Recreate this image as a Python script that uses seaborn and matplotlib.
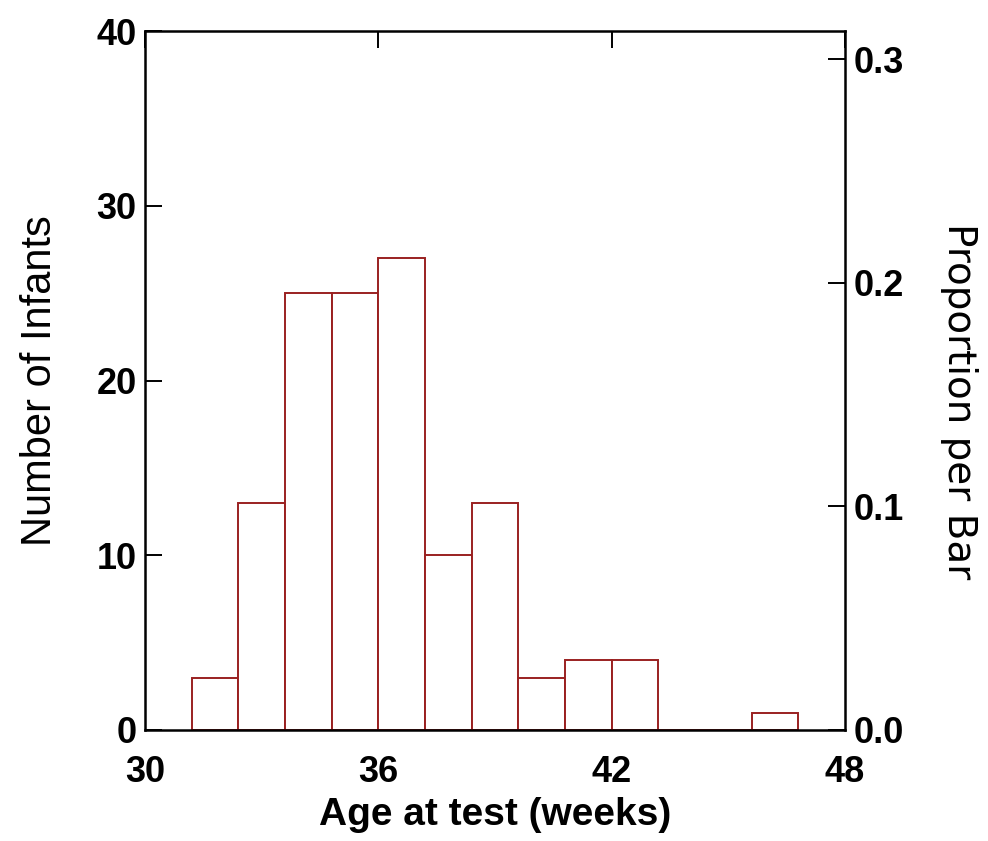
import numpy as np
import pandas as pd
import matplotlib
matplotlib.use("Agg")
import matplotlib.pyplot as plt
import seaborn as sns

# Histogram of infant age at test: 1.2-week bins starting at 31.2 weeks
bin_start = 31.2
bin_width = 1.2
counts = [3, 13, 25, 25, 27, 10, 13, 3, 4, 4, 0, 0, 1]

x_ticks = [30, 36, 42, 48]
y_ticks = [0, 10, 20, 30, 40]
prop_ticks = [0.0, 0.1, 0.2, 0.3]
prop_labels = ["0.0", "0.1", "0.2", "0.3"]

bin_end = bin_start + bin_width * len(counts)
centers = [bin_start + bin_width * (i + 0.5) for i in range(len(counts))]
df = pd.DataFrame({"age": centers, "n": counts})
total = sum(counts)

sns.set_style("white")
plt.rcParams["font.family"] = ["Liberation Sans", "DejaVu Sans"]
plt.rcParams["text.color"] = "black"
plt.rcParams["axes.labelcolor"] = "black"
plt.rcParams["xtick.color"] = "black"
plt.rcParams["ytick.color"] = "black"

fig = plt.figure(figsize=(9.88, 8.41), dpi=100)
ax = fig.add_axes([0.1468, 0.132, 0.7085, 0.831])

sns.histplot(data=df, x="age", weights="n", binwidth=bin_width,
             binrange=(bin_start, bin_end), ax=ax,
             element="bars", fill=True, color="white",
             edgecolor="#9a2020", linewidth=1.4, alpha=1)

ax.set_xlim(30, 48)
ax.set_ylim(0, 40)
ax.set_xticks(x_ticks)
ax.set_yticks(y_ticks)
ax.set_xticklabels([str(t) for t in x_ticks], fontsize=26, fontweight="bold")
ax.set_yticklabels([str(t) for t in y_ticks], fontsize=26, fontweight="bold")
ax.tick_params(axis="x", direction="in", bottom=False, top=True,
               length=12, width=1.4, pad=18, color="black")
ax.tick_params(axis="y", direction="in", left=True, length=12, width=1.4,
               pad=6, color="black")
for sp in ax.spines.values():
    sp.set_visible(True)
    sp.set_color("black")
    sp.set_linewidth(1.8)

ax.set_xlabel("Age at test (weeks)", fontsize=28, fontweight="bold", labelpad=5)
ax.set_ylabel("Number of Infants", fontsize=30, labelpad=26)

# Secondary axis: proportion of all infants per bar
ax2 = ax.twinx()
ax2.set_ylim(0, 40 / total)
ax2.set_yticks(prop_ticks)
ax2.set_yticklabels(prop_labels, fontsize=26, fontweight="bold")
ax2.tick_params(axis="y", direction="in", right=True, length=12, width=1.4,
                pad=6, color="black")
for sp in ax2.spines.values():
    sp.set_visible(False)
ax2.set_ylabel("Proportion per Bar", fontsize=28, rotation=270,
               labelpad=48, family=["DejaVu Sans"])
ax2.yaxis.set_label_coords(1.19, 0.47)

fig.savefig("out.png", dpi=100, facecolor="white")
